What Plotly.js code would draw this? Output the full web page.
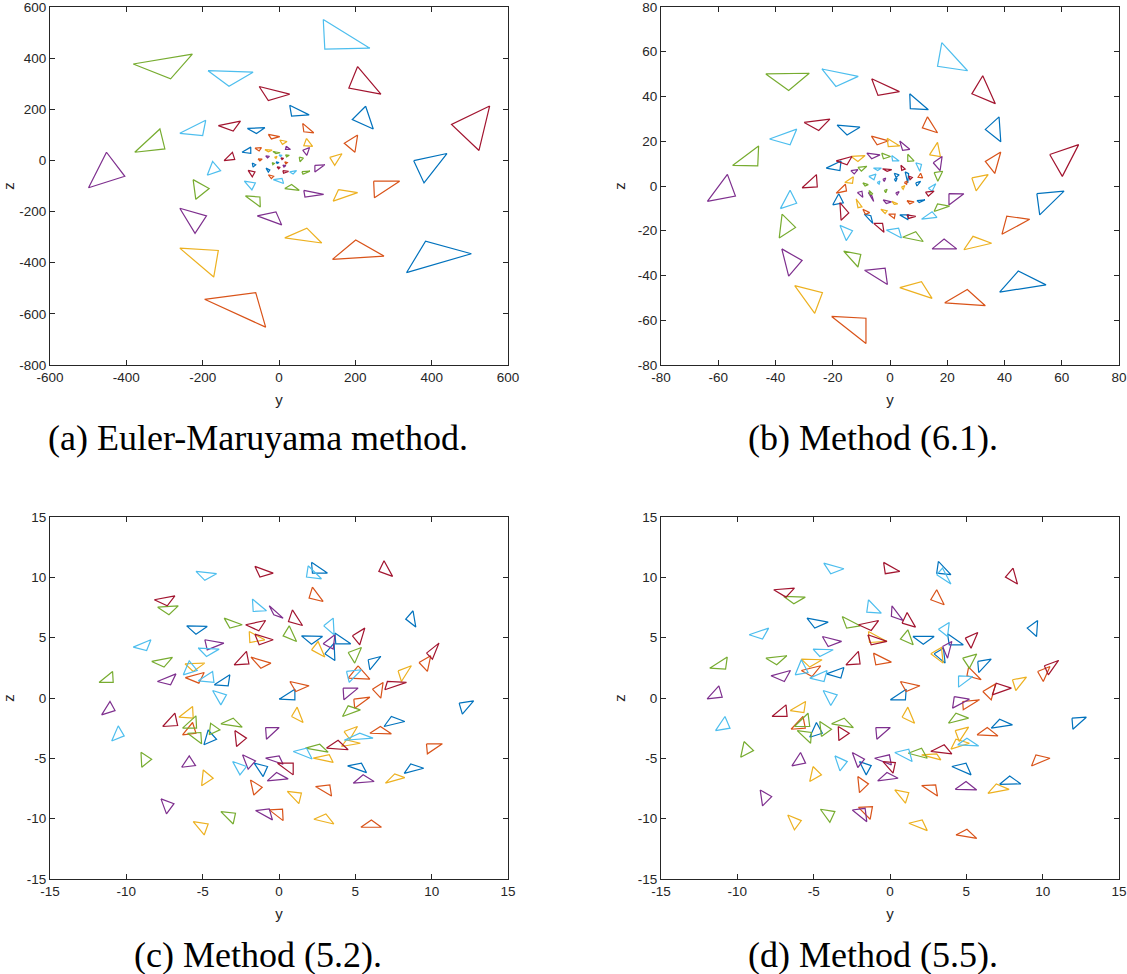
<!DOCTYPE html>
<html>
<head>
<meta charset="utf-8">
<script src="https://cdn.plot.ly/plotly-3.0.1.min.js"></script>
<style>
  html, body { margin: 0; padding: 0; background: #fff; }
  #chart { width: 1127px; height: 974px; }
</style>
</head>
<body>
<div id="chart"></div>
<script>
// MATLAB default colour order: blue, orange, yellow, purple, green, cyan, dark red
const colorOrder = ['#0072BD', '#D95319', '#EDB120', '#7E2F8E', '#77AC30', '#4DBEEE', '#A2142F'];

// each triangle is [[y1,z1],[y2,z2],[y3,z3]]

// (a) Euler-Maruyama
const emBlue = [
  [[28,216],[33,173],[79,178]], [[227,212],[192,160],[247,123]], [[-83,125],[-37,128],[-59,105]],
  [[353,-1],[440,27],[380,-88]], [[334,-439],[384,-316],[504,-365]], [[-97,32],[-74,52],[-74,28]],
  [[-70,-10],[-61,-17],[-68,-26]], [[-34,-30],[-24,-37],[-28,-46]], [[-8,-5],[0,-8],[-5,-12]]
];
const emOrange = [
  [[62,145],[91,108],[65,112]], [[206,99],[199,32],[171,67]], [[248,-81],[316,-81],[250,-146]],
  [[140,-387],[201,-311],[275,-374]], [[-195,-543],[-61,-517],[-35,-652]], [[-63,48],[-46,50],[-52,37]],
  [[-28,102],[2,93],[-20,84]], [[-28,-56],[-14,-62],[-20,-71]], [[-55,6],[-44,5],[-50,-2]],
  [[15,-5],[22,-8],[18,-14]]
];
const emYellow = [
  [[133,12],[165,26],[146,-19]], [[156,-114],[206,-126],[142,-159]], [[15,-303],[73,-265],[112,-323]],
  [[-260,-343],[-159,-352],[-171,-456]], [[2,80],[21,74],[9,63]], [[72,86],[88,55],[65,58]],
  [[-37,42],[-18,40],[-28,34]], [[-12,12],[-5,16],[-8,8]]
];
const emPurple = [
  [[-452,32],[-404,-62],[-499,-107]], [[65,-117],[117,-133],[68,-143]], [[94,-19],[120,-17],[94,-45]],
  [[-260,-187],[-190,-217],[-220,-285]], [[-57,-217],[-8,-201],[7,-252]], [[19,56],[30,43],[17,43]],
  [[62,40],[80,50],[73,20]], [[-35,18],[-25,16],[-30,10]], [[10,-18],[18,-20],[13,-26]]
];
const emGreen = [
  [[-382,377],[-227,416],[-284,319]], [[-378,32],[-312,123],[-299,45]], [[15,-110],[33,-94],[53,-117]],
  [[-225,-75],[-183,-110],[-218,-152]], [[-88,-139],[-50,-143],[-49,-182]], [[53,13],[64,9],[55,-5]],
  [[60,-44],[81,-42],[63,-54]], [[-16,35],[3,30],[-8,27]], [[17,22],[27,20],[20,14]],
  [[-18,-8],[-12,-12],[-16,-17]]
];
const emCyan = [
  [[116,551],[120,435],[238,439]], [[-186,351],[-68,345],[-131,290]], [[-260,106],[-192,157],[-200,97]],
  [[-91,-81],[-62,-88],[-71,-115]], [[-188,-58],[-174,-4],[-153,-40]], [[-15,-75],[8,-70],[12,-90]],
  [[28,-45],[46,-40],[37,-53]], [[0,22],[8,20],[4,15]]
];
const emRed = [
  [[206,367],[183,283],[267,259]], [[-52,289],[28,259],[-28,234]], [[552,213],[452,141],[524,39]],
  [[-159,136],[-101,154],[-120,115]], [[-144,-1],[-122,32],[-116,4]], [[-81,-39],[-63,-45],[-70,-64]],
  [[10,-40],[25,-43],[12,-50]], [[5,10],[12,8],[8,3]], [[-5,-25],[3,-27],[-1,-33]]
];

// (b) Method (6.1)
const m61Blue = [
  [[6.9,41.2],[7.1,34.6],[13.4,34.1]], [[38.1,30.9],[33.3,25.3],[38.7,19.8]], [[-18.5,27.2],[-10.5,26.3],[-15,22.8]],
  [[51.3,-3.4],[60.8,-2.3],[52.3,-12.9]], [[38.3,-47.4],[44.8,-38],[54.5,-44.2]], [[-9,-12.6],[-6.7,-13.3],[-6,-16.7]],
  [[-20,-8.4],[-17.9,-3.5],[-16.3,-7.5]], [[-22.3,8],[-17.1,11.2],[-17.5,6.9]], [[9,1.4],[10.7,2.1],[9.4,0]],
  [[9.4,-6.5],[12.2,-6.2],[10.2,-7.4]], [[3.4,-12.9],[6.5,-12.9],[6.2,-15]], [[1.5,5.7],[3.2,5],[2.1,3.8]],
  [[5.3,6.3],[6.5,5.5],[6.2,1.4]], [[1.5,3],[2.5,3.5],[2,2]]
];
const m61Orange = [
  [[13.1,30.9],[11.3,26],[16.6,23.8]], [[38.7,15.2],[33.3,11],[36.6,5.6]], [[-20.4,-58.3],[-8.4,-59.1],[-8.4,-70.4]],
  [[19.1,-52.2],[27,-46.3],[33.3,-53.5]], [[39.1,-21.6],[40.8,-13.5],[48.8,-14.9]], [[-9.5,-10.4],[-7.1,-11.9],[-8.6,-12.6]],
  [[-18.8,-3.2],[-15.6,0.8],[-15.2,-2.2]], [[-6.5,22.3],[-0.5,20.2],[-4.5,18.4]], [[10.7,5.7],[11.4,3.6],[9.8,3.9]],
  [[-0.5,-12.6],[1.8,-12.6],[1.5,-14.5]], [[5.9,-6.5],[8.4,-7.1],[6.9,-8]], [[5,1.5],[6,2.2],[5.8,0.8]]
];
const m61Yellow = [
  [[28.6,3.6],[34.3,5.1],[30.1,-2.2]], [[-33.3,-44.5],[-23.6,-47.7],[-26.3,-56.9]], [[3.4,-45.4],[11,-42.8],[14.7,-50.2]],
  [[25.8,-28.5],[29,-22.5],[35.5,-25.6]], [[-15.8,1.6],[-12.8,4.1],[-13.1,1.2]], [[-13.6,13.2],[-8.7,13.6],[-11.2,11]],
  [[13.8,13.9],[16.6,19.5],[17.6,13.2]], [[-1,21.3],[3.4,17.9],[-0.6,17.6]], [[-3.2,-10.4],[-1,-11.1],[-1.7,-12.3]],
  [[0.6,-6.8],[2.7,-8],[1.5,-8.2]], [[-11.8,-5.8],[-9.8,-9.3],[-11.2,-9.7]], [[4,-0.5],[5.2,0.2],[4.6,-1.5]]
];
const m61Purple = [
  [[-63.8,-6.9],[-56.8,5.2],[-54,-4.5]], [[20.6,-3.4],[25.8,-3.5],[20.6,-8.5]], [[-37.8,-28.1],[-30.7,-33.3],[-35.4,-40.3]],
  [[-8.9,-37.7],[-1.7,-36.7],[-0.9,-44]], [[14.7,-28.1],[18.9,-23.7],[23.3,-28.1]], [[-8.1,14.7],[-3.5,13.9],[-6.4,12.2]],
  [[15.1,10.4],[18.2,13.2],[17.5,6.9]], [[3.4,20.1],[6.9,16.4],[4.4,15.9]], [[-2.4,-6.2],[0.5,-7.1],[-1.3,-7.8]],
  [[-11.4,-2.9],[-9.8,-2.3],[-9.5,-5.1]], [[-7.6,-2.9],[-6.3,-4.4],[-5.7,-6.9]], [[-13.7,6.9],[-11.2,7.3],[-12.5,5.4]],
  [[2,-3],[3.2,-2.5],[2.5,-4]], [[-2.5,3],[-1.5,3.5],[-2,2]]
];
const m61Green = [
  [[-43.4,50.1],[-28.2,50.4],[-35.4,42.7]], [[-55,9.2],[-45.9,17.9],[-46.2,9]], [[-37.7,-12.6],[-33,-18.5],[-38.7,-23.2]],
  [[-16.2,-29.1],[-10.2,-30.6],[-11.2,-36.2]], [[4.4,-22.9],[9,-20.4],[11.6,-24.8]], [[15.4,-11.4],[20.8,-9],[16.6,-8]],
  [[-2.9,14.7],[0.2,13.2],[-2.3,12.2]], [[6.2,14.2],[8.4,11.2],[6.2,11]], [[15.4,6],[18.4,6.6],[16.7,2.1]],
  [[-7.3,-2],[-6,-3.5],[-7,-3.8]], [[-9.5,1.4],[-7.6,0.6],[-8.7,0]], [[-11.2,8.3],[-8.1,8.8],[-10,6.6]],
  [[-2,-2],[-1,-1.5],[-1.5,-3]]
];
const m61Cyan = [
  [[18.1,64.1],[16.6,53.5],[27.1,51.5]], [[-23.8,52.3],[-11.1,49],[-18.9,44.5]], [[-42.1,21],[-32.6,25.4],[-34.9,18.4]],
  [[-38.3,-10.1],[-34.9,-1.9],[-32.6,-7.7]], [[-17.5,-17.6],[-13.1,-20],[-15.3,-24.4]], [[-1.3,-19.7],[3,-18.8],[4,-23.2]],
  [[11,-14.8],[16.4,-14],[14.7,-11.5]], [[0.6,13.6],[3.2,11.2],[0.9,11.2]], [[9,10.4],[11,9.6],[10.4,6.6]],
  [[13.4,-1],[16,1],[14.7,-2.3]], [[-7.4,4.3],[-4.9,5.3],[-5.6,2.8]], [[-5.8,8],[-3,8],[-4.3,6.9]],
  [[-4.5,1.5],[-3.5,2.2],[-3.8,0.8]]
];
const m61Red = [
  [[-6.4,47.9],[3.3,42.2],[-4.2,40.5]], [[32.4,49.3],[28.6,41.2],[36.8,36.8]], [[-30,28.4],[-21,29.9],[-24.9,24.8]],
  [[55.8,14.1],[65.9,18.5],[60.2,4.3]], [[-30.7,-0.8],[-25.7,5.1],[-25.4,-0.4]], [[-5.7,-16.7],[-2.6,-16.7],[-2.1,-20.7]],
  [[-17.5,-7.4],[-14.4,-12],[-17.1,-15.3]], [[-18.8,11.2],[-13.3,13.2],[-15,9.5]], [[12.4,-2.7],[15.4,-2.3],[13.4,-4.5]],
  [[5.9,-12.9],[9,-13.6],[6.5,-14.5]], [[-2.6,7.7],[0.6,7.3],[-1,6.6]], [[3.8,9.3],[5.3,7.6],[4.1,7]],
  [[6.5,4.4],[7.8,3.8],[7,2.8]]
];

// (c) Method (5.2)
const m52Blue = [
  [[2.13,11.24],[2.19,10.35],[3.17,10.35]], [[8.78,7.23],[8.3,6.54],[8.96,5.88]], [[-6.05,5.98],[-4.7,5.93],[-5.44,5.29]],
  [[1.47,5.15],[2.85,5.1],[2.13,4.46]], [[3.66,5.38],[3.72,4.49],[4.7,4.49]], [[3,3.66],[3.61,4.55],[3.66,3.11]],
  [[5.84,3.17],[6.67,3.44],[5.95,2.34]], [[-4.24,1.09],[-3.22,1.92],[-3.33,1.01]], [[0.01,-0.1],[1.04,0.73],[1.04,-0.15]],
  [[11.8,-0.43],[12.75,-0.24],[12.01,-1.34]], [[6.88,-2.36],[7.36,-1.53],[8.24,-1.95]], [[-4.92,-3.88],[-4.64,-2.65],[-4.09,-3.42]],
  [[-1.63,-5.4],[-0.75,-5.68],[-1.04,-6.51]], [[4.49,-5.62],[5.4,-5.4],[5.73,-6.18]], [[8.2,-6.24],[8.63,-5.46],[9.48,-5.82]]
];
const m52Orange = [
  [[2.19,9.19],[1.97,8.28],[2.89,8.0]], [[-1.84,3.39],[-0.53,2.89],[-1.19,2.47]], [[-6.14,1.69],[-4.9,2.11],[-5.25,1.23]],
  [[0.71,1.37],[1.97,1.01],[1.1,0.54]], [[5.18,2.67],[4.53,1.65],[5.95,1.56]], [[6.12,0.73],[6.82,1.29],[6.67,-0.01]],
  [[9.17,2.94],[9.94,3.5],[9.72,2.2]], [[4.9,-0.1],[5.95,0.07],[4.96,-0.84]], [[5.95,-2.92],[6.64,-2.36],[7.36,-2.97]],
  [[9.66,-3.8],[9.72,-4.63],[10.7,-3.8]], [[-6.32,-3.05],[-5.66,-2.03],[-5.44,-2.92]], [[-1.87,-6.79],[-1.1,-7.4],[-1.65,-8.04]],
  [[2.39,-7.34],[3.33,-7.2],[3.44,-8.12]], [[-0.64,-9.27],[0.23,-9.22],[0.27,-10.16]], [[5.36,-10.71],[6.05,-10.11],[6.71,-10.71]]
];
const m52Yellow = [
  [[-1.95,5.51],[-1.91,4.6],[-0.93,4.82]], [[2.13,3.99],[2.56,4.68],[3,3.39]], [[-6.16,2.84],[-4.86,2.89],[-5.62,2.2]],
  [[7.8,2.25],[8.67,2.67],[8.02,1.37]], [[-6.56,-1.59],[-5.66,-0.71],[-5.62,-1.67]], [[0.82,-1.53],[1.19,-0.76],[1.58,-2.03]],
  [[4.26,-2.78],[5.14,-2.36],[4.64,-3.42]], [[4.09,-4.02],[5.33,-3.75],[4.42,-3.47]], [[2.24,-4.98],[3.29,-4.7],[3.55,-5.34]],
  [[-5.07,-7.28],[-4.31,-6.65],[-4.96,-5.96]], [[6.97,-7.06],[7.58,-6.29],[8.24,-6.6]], [[0.54,-7.74],[1.47,-7.88],[1.3,-8.76]],
  [[2.28,-10.05],[3.07,-9.61],[3.59,-10.44]], [[-5.62,-10.25],[-4.64,-10.44],[-4.9,-11.35]]
];
const m52Purple = [
  [[-0.64,7.64],[-0.34,6.9],[0.27,6.62]], [[-4.86,4.83],[-3.61,4.55],[-4.7,3.99]], [[2.89,4.49],[3.66,5.24],[3.55,4.05]],
  [[-7.97,1.37],[-6.75,2.0],[-7.1,1.09]], [[4.2,0.82],[5.18,0.82],[4.25,-0.15]], [[-11.62,-1.4],[-11.07,-0.29],[-10.74,-1.04]],
  [[-0.88,-2.45],[0.01,-2.45],[-0.82,-3.42]], [[-6.38,-5.74],[-5.88,-4.8],[-5.47,-5.6]], [[-2.39,-4.71],[-1.54,-5.21],[-2.02,-5.9]],
  [[-0.88,-4.99],[0.01,-4.8],[0.27,-5.49]], [[-0.77,-6.87],[-0.16,-6.18],[0.6,-6.7]], [[4.86,-7.06],[5.51,-6.37],[6.23,-6.92]],
  [[-7.73,-8.36],[-6.88,-8.76],[-7.37,-9.6]], [[-1.54,-9.33],[-0.64,-9.19],[-0.43,-10.1]]
];
const m52Green = [
  [[-7.95,7.53],[-6.6,7.64],[-7.21,6.9]], [[-3.59,6.62],[-2.41,6.07],[-3.22,5.79]], [[0.67,5.98],[0.27,5.15],[1.15,4.68]],
  [[-8.34,3.03],[-6.98,3.36],[-7.53,2.56]], [[4.53,3.77],[5.4,4.19],[4.96,2.89]], [[-11.79,1.29],[-10.9,2.2],[-10.86,1.29]],
  [[4.16,-1.53],[4.53,-0.65],[5.33,-0.98]], [[-6.32,-2.5],[-5.44,-1.48],[-5.4,-2.5]], [[-4.57,-3.05],[-4.48,-2.09],[-3.87,-2.64]],
  [[-5.99,-2.92],[-5.12,-2.86],[-5.07,-3.8]], [[-3.81,-2.14],[-3.0,-1.67],[-2.41,-2.42]], [[1.73,-4.15],[2.67,-3.83],[3.22,-4.49]],
  [[-9.04,-4.49],[-8.34,-5.07],[-8.99,-5.74]], [[-3.81,-9.42],[-2.85,-9.55],[-3.0,-10.44]]
];
const m52Cyan = [
  [[-5.44,10.49],[-4.09,10.3],[-4.86,9.75]], [[1.91,10.96],[1.8,10.02],[2.78,9.88]], [[-1.74,8.2],[-1.69,7.17],[-0.82,7.23]],
  [[2.93,5.98],[3.55,6.62],[3.61,5.24]], [[-9.55,4.22],[-8.39,4.83],[-8.67,3.94]], [[-5.29,4.14],[-3.92,4.05],[-4.75,3.44]],
  [[-6.27,1.92],[-5.88,3.08],[-5.36,2.28]], [[-5.29,1.42],[-4.35,2.2],[-4.26,1.29]], [[-4.35,0.62],[-3.44,0.26],[-3.81,-0.57]],
  [[4.42,2.2],[5.4,2.34],[4.6,1.29]], [[-10.96,-3.56],[-10.53,-2.31],[-10.14,-3.14]], [[4.27,-3.5],[5.29,-2.92],[6.16,-3.33]],
  [[0.93,-4.43],[1.8,-4.15],[2.17,-5.06]], [[-3.04,-5.26],[-2.56,-6.37],[-2.13,-5.68]]
];
const m52Red = [
  [[-1.58,10.91],[-0.38,10.35],[-1.25,10.02]], [[6.88,11.38],[6.54,10.49],[7.44,10.08]], [[-8.17,8.14],[-6.82,8.47],[-7.32,7.64]],
  [[0.88,7.3],[0.62,6.34],[1.54,6.01]], [[-2.19,6.07],[-0.88,6.42],[-1.32,5.57]], [[-1.58,5.29],[-0.38,4.83],[-1.3,4.41]],
  [[4.81,5.15],[5.62,5.79],[5.29,4.41]], [[-2.94,2.75],[-2.13,3.86],[-1.97,2.83]], [[9.66,3.72],[10.48,4.55],[10.05,3.22]],
  [[6.93,0.68],[7.1,1.37],[8.35,1.29]], [[-7.62,-2.36],[-6.82,-1.26],[-6.64,-2.28]], [[-2.89,-2.7],[-2.13,-3.33],[-2.78,-4.02]],
  [[3.11,-4.15],[3.87,-3.51],[4.53,-4.29]], [[-0.1,-5.4],[0.93,-5.4],[0.93,-6.37]]
];

// (d) Method (5.5)
const m55Blue = [
  [[3.17,11.32],[3.06,10.35],[3.99,10.22]], [[9.67,6.42],[8.99,5.79],[9.6,5.1]], [[-5.44,6.62],[-4.05,6.29],[-4.93,5.79]],
  [[1.5,5.1],[2.89,5.1],[2.18,4.46]], [[3.77,5.32],[3.88,4.41],[4.8,4.41]], [[2.89,3.66],[3.5,4.13],[3.61,2.89]],
  [[5.75,3.03],[6.63,3.22],[5.81,2.11]], [[-4.16,2.0],[-3.02,2.53],[-3.22,1.65]], [[0.02,-0.15],[1.06,0.73],[1.01,-0.15]],
  [[11.92,-1.67],[12.86,-1.59],[11.98,-2.59]], [[6.63,-2.5],[7.18,-1.76],[8.02,-2.23]], [[-5.26,-3.25],[-4.82,-2.03],[-4.43,-2.92]],
  [[-2.0,-5.27],[-1.23,-5.6],[-1.56,-6.37]], [[4.05,-5.68],[4.98,-5.4],[5.31,-6.37]], [[7.18,-7.15],[7.84,-6.46],[8.57,-7.12]]
];
const m55Orange = [
  [[3.06,8.97],[2.67,8.14],[3.55,7.73]], [[-1.08,3.72],[0.09,2.97],[-0.93,2.75]], [[-5.81,2.28],[-4.54,2.67],[-5.11,1.78]],
  [[0.68,1.37],[1.96,1.01],[1.06,0.54]], [[5.15,2.56],[5.04,1.84],[5.97,1.51]], [[6.08,0.54],[6.92,1.17],[6.63,-0.15]],
  [[9.67,2.2],[10.48,2.61],[10.04,1.37]], [[4.76,-0.29],[5.86,-0.15],[4.8,-0.98]], [[5.7,-3.05],[6.37,-2.45],[7.07,-3.14]],
  [[9.27,-5.63],[9.56,-4.71],[10.48,-4.99]], [[-6.48,-2.59],[-5.7,-1.53],[-5.55,-2.5]], [[-2.11,-6.51],[-1.41,-7.12],[-2.0,-7.84]],
  [[2.07,-7.26],[2.99,-7.2],[3.11,-8.12]], [[-2.07,-9.06],[-1.15,-9.0],[-1.3,-10.05]], [[4.32,-11.35],[5.04,-10.88],[5.68,-11.63]]
];
const m55Yellow = [
  [[-1.41,5.51],[-1.34,4.6],[-0.2,4.69]], [[2.67,3.66],[3.37,4.19],[3.48,2.89]], [[-5.81,3.22],[-4.45,3.17],[-5.26,2.56]],
  [[8.02,1.51],[8.94,1.73],[8.24,0.62]], [[-6.54,-1.04],[-5.53,-0.29],[-5.64,-1.2]], [[0.79,-1.59],[1.17,-0.76],[1.61,-2.09]],
  [[4.27,-2.7],[5.15,-2.42],[4.54,-3.6]], [[3.99,-4.24],[4.32,-3.42],[5.2,-3.75]], [[2.07,-4.71],[3.06,-4.63],[3.33,-5.13]],
  [[-5.04,-5.68],[-4.49,-6.37],[-5.26,-6.92]], [[6.41,-7.9],[6.96,-7.12],[7.8,-7.57]], [[0.31,-7.62],[1.23,-7.84],[1.01,-8.72]],
  [[1.23,-10.38],[2.11,-10.11],[2.44,-10.99]], [[-6.7,-9.69],[-5.81,-10.16],[-6.26,-10.93]]
];
const m55Purple = [
  [[0.13,7.64],[0.09,6.76],[0.86,6.42]], [[-4.43,5.1],[-3.17,4.69],[-4.05,4.27]], [[3.44,4.27],[4.05,4.69],[3.77,3.3]],
  [[-7.8,1.84],[-6.52,2.28],[-6.92,1.37]], [[4.21,0.12],[5.2,-0.1],[4.1,-0.84]], [[-11.98,-0.07],[-11.21,1.0],[-10.99,0.07]],
  [[-0.93,-2.45],[0.02,-2.45],[-0.86,-3.42]], [[-6.43,-5.63],[-5.86,-4.52],[-5.53,-5.4]], [[-2.47,-4.52],[-1.67,-5.07],[-2.11,-5.76]],
  [[-1.01,-4.99],[-0.04,-4.71],[0.09,-5.54]], [[-0.81,-6.87],[-0.2,-6.18],[0.53,-6.65]], [[4.27,-7.57],[4.98,-6.92],[5.68,-7.62]],
  [[-8.5,-7.62],[-7.75,-8.17],[-8.35,-8.94]], [[-2.47,-9.28],[-1.63,-9.14],[-1.52,-10.25]]
];
const m55Green = [
  [[-6.96,8.42],[-5.55,8.36],[-6.3,7.81]], [[-3.13,6.76],[-1.96,5.98],[-2.84,5.79]], [[1.17,5.65],[0.68,4.88],[1.52,4.41]],
  [[-8.13,3.3],[-6.76,3.5],[-7.42,2.75]], [[4.76,3.3],[5.68,3.64],[5.2,2.47]], [[-11.81,2.47],[-10.66,3.39],[-10.77,2.39]],
  [[3.83,-2.09],[4.32,-1.26],[5.15,-1.67]], [[-6.26,-2.36],[-5.37,-1.26],[-5.26,-2.36]], [[-4.49,-3.19],[-4.6,-1.95],[-3.83,-2.59]],
  [[-6.08,-2.7],[-5.15,-2.86],[-5.2,-3.75]], [[-3.83,-2.14],[-3.0,-1.67],[-2.4,-2.45]], [[1.19,-4.58],[2.07,-4.16],[2.44,-4.99]],
  [[-9.56,-3.61],[-8.94,-4.35],[-9.78,-4.91]], [[-4.56,-9.22],[-3.61,-9.41],[-3.94,-10.3]]
];
const m55Cyan = [
  [[-4.34,11.18],[-3.02,10.71],[-3.88,10.3]], [[3.06,10.22],[3.44,10.77],[3.99,9.44]], [[-1.41,8.14],[-1.52,7.12],[-0.57,7.04]],
  [[3.17,5.7],[3.88,6.26],[3.77,5.1]], [[-9.23,5.24],[-7.95,5.79],[-8.35,4.88]], [[-5.04,4.05],[-3.72,4.0],[-4.6,3.44]],
  [[-6.21,1.92],[-5.81,3.17],[-5.37,2.11]], [[-5.26,1.65],[-4.12,2.28],[-4.32,1.37]], [[-4.38,0.62],[-3.46,0.26],[-3.88,-0.62]],
  [[4.49,1.84],[5.42,1.78],[4.49,0.9]], [[-11.43,-2.7],[-10.81,-1.53],[-10.48,-2.5]], [[4.43,-3.88],[5.04,-3.33],[5.81,-3.97]],
  [[0.31,-4.52],[1.23,-4.24],[1.45,-5.27]], [[-3.61,-4.8],[-2.8,-5.27],[-3.28,-6.04]]
];
const m55Red = [
  [[-0.42,11.24],[0.64,10.49],[-0.31,10.3]], [[8.06,10.77],[7.56,10.02],[8.35,9.44]], [[-7.62,8.97],[-6.26,9.11],[-6.81,8.36]],
  [[0.79,6.2],[1.12,7.09],[1.67,5.87]], [[-2.07,6.07],[-0.75,6.42],[-1.23,5.6]], [[-1.45,5.24],[-0.2,4.69],[-1.23,4.41]],
  [[4.93,4.96],[5.75,5.43],[5.31,4.13]], [[-2.89,2.75],[-2.07,3.86],[-1.96,2.83]], [[10.11,2.67],[11.04,3.11],[10.37,1.92]],
  [[6.7,0.26],[6.96,1.23],[7.95,0.82]], [[-7.73,-1.53],[-6.81,-0.57],[-6.74,-1.53]], [[-3.39,-2.36],[-2.67,-2.92],[-3.35,-3.53]],
  [[2.67,-4.43],[3.55,-3.88],[4.05,-4.63]], [[-0.46,-5.27],[0.35,-5.35],[0.2,-6.23]]
];

// tick values
const emTicksY = [-600, -400, -200, 0, 200, 400, 600];
const emTicksZ = [-800, -600, -400, -200, 0, 200, 400, 600];
const m61Ticks = [-80, -60, -40, -20, 0, 20, 40, 60, 80];
const m5Ticks = [-15, -10, -5, 0, 5, 10, 15];

const captions = ['(a) Euler-Maruyama method.', '(b) Method (6.1).', '(c) Method (5.2).', '(d) Method (5.5).'];

const panels = [
  { sets: [emBlue, emOrange, emYellow, emPurple, emGreen, emCyan, emRed], xt: emTicksY, yt: emTicksZ,
    xr: [-600, 600], yr: [-800, 600], dx: [50, 508], dy: [7, 365], cap: [258, 438] },
  { sets: [m61Blue, m61Orange, m61Yellow, m61Purple, m61Green, m61Cyan, m61Red], xt: m61Ticks, yt: m61Ticks,
    xr: [-80, 80], yr: [-80, 80], dx: [661, 1119], dy: [7, 365], cap: [873, 438] },
  { sets: [m52Blue, m52Orange, m52Yellow, m52Purple, m52Green, m52Cyan, m52Red], xt: m5Ticks, yt: m5Ticks,
    xr: [-15, 15], yr: [-15, 15], dx: [50, 508], dy: [517, 879], cap: [258, 955] },
  { sets: [m55Blue, m55Orange, m55Yellow, m55Purple, m55Green, m55Cyan, m55Red], xt: m5Ticks, yt: m5Ticks,
    xr: [-15, 15], yr: [-15, 15], dx: [661, 1119], dy: [517, 879], cap: [873, 955] }
];

const W = 1127, H = 974;
const ink = '#262626';
const sans = 'Liberation Sans, Arial, sans-serif';

function triangleTrace(tris, color, xa, ya) {
  const x = [], y = [];
  tris.forEach(t => {
    t.forEach(p => { x.push(p[0]); y.push(p[1]); });
    x.push(t[0][0]); y.push(t[0][1]);
    x.push(null); y.push(null);
  });
  return {
    x: x, y: y, xaxis: xa, yaxis: ya,
    type: 'scatter', mode: 'lines',
    line: { color: color, width: 1.2 },
    connectgaps: false, hoverinfo: 'skip', showlegend: false
  };
}

function axisStyle(ticks, range) {
  return {
    range: range,
    tickvals: ticks,
    ticktext: ticks.map(v => String(v)),
    ticks: 'inside', ticklen: 5, tickwidth: 1, tickcolor: ink,
    showline: true, linecolor: ink, linewidth: 1, mirror: 'ticks',
    showgrid: false, zeroline: false,
    ticklabeloverflow: 'allow',
    tickfont: { family: sans, size: 13.5, color: ink },
    fixedrange: true
  };
}

const traces = [];
const layout = {
  width: W, height: H,
  margin: { l: 0, r: 0, t: 0, b: 0 },
  paper_bgcolor: '#fff', plot_bgcolor: '#fff',
  showlegend: false,
  annotations: []
};

panels.forEach((p, i) => {
  const n = i === 0 ? '' : String(i + 1);
  const xa = 'x' + n, ya = 'y' + n;
  p.sets.forEach((s, c) => traces.push(triangleTrace(s, colorOrder[c], xa, ya)));

  const xaxis = axisStyle(p.xt, p.xr);
  xaxis.domain = [p.dx[0] / W, p.dx[1] / W];
  xaxis.anchor = ya;
  xaxis.title = { text: 'y', font: { family: sans, size: 15, color: ink }, standoff: 10 };
  const yaxis = axisStyle(p.yt, p.yr);
  yaxis.domain = [1 - p.dy[1] / H, 1 - p.dy[0] / H];
  yaxis.anchor = xa;
  yaxis.title = { text: 'z', font: { family: sans, size: 15, color: ink }, standoff: 8 };
  layout['xaxis' + n] = xaxis;
  layout['yaxis' + n] = yaxis;

  layout.annotations.push({
    text: captions[i], xref: 'paper', yref: 'paper',
    x: p.cap[0] / W, y: 1 - p.cap[1] / H, xanchor: 'center', yanchor: 'middle',
    showarrow: false,
    font: { family: 'Liberation Serif, Times New Roman, serif', size: 36, color: '#000' }
  });
});

Plotly.newPlot('chart', traces, layout, { staticPlot: true });
</script>
</body>
</html>
